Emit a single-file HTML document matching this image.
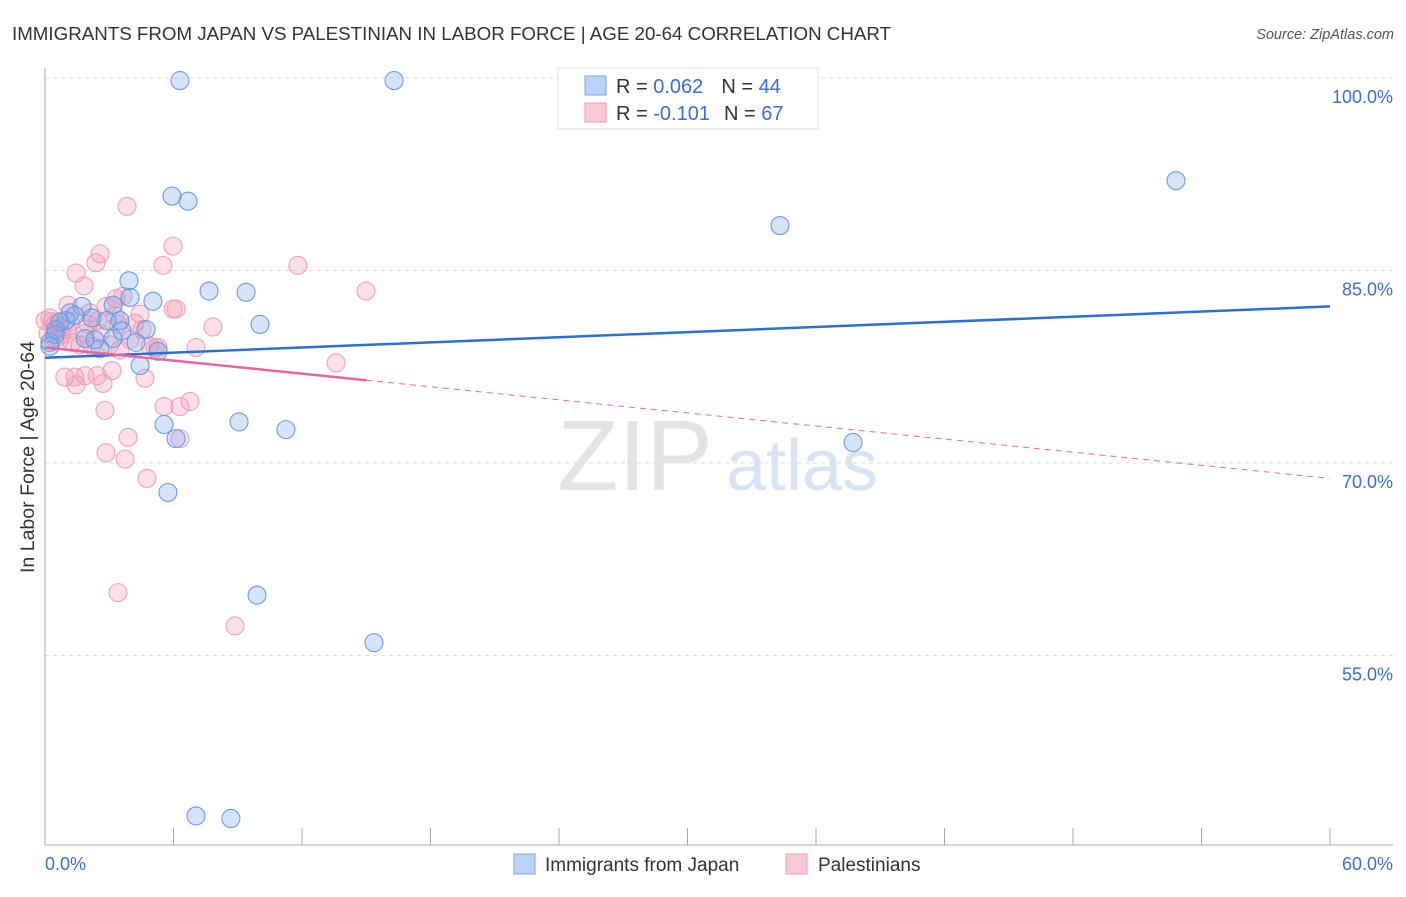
<!DOCTYPE html>
<html><head><meta charset="utf-8"><style>
body{margin:0;background:#fff;font-family:"Liberation Sans",sans-serif;}
svg text{font-family:"Liberation Sans",sans-serif;}
</style></head><body>
<svg id="chart" width="1406" height="892" xmlns="http://www.w3.org/2000/svg">
<text x="12" y="40" font-size="18" fill="#333" textLength="879" lengthAdjust="spacingAndGlyphs">IMMIGRANTS FROM JAPAN VS PALESTINIAN IN LABOR FORCE | AGE 20-64 CORRELATION CHART</text>
<text x="1394" y="39" font-size="14.5" fill="#555" text-anchor="end" font-style="italic">Source: ZipAtlas.com</text>
<text transform="translate(34,457) rotate(-90)" font-size="19" fill="#333" text-anchor="middle" textLength="232" lengthAdjust="spacingAndGlyphs">In Labor Force | Age 20-64</text>
<g><text x="635" y="490" font-size="100" fill="#e4e4e4" text-anchor="middle" font-family="Liberation Serif">ZIP</text><text x="802" y="490" font-size="72" fill="#d6e4f5" text-anchor="middle">atlas</text></g>
<g id="grid"></g><g id="axes"></g><g id="pts"></g><g id="trends"></g>
<g>
<rect x="558" y="68" width="260" height="61" fill="#fff" stroke="#ddd"/>
<rect x="585" y="76" width="21" height="19" fill="#b8d3f5" stroke="#7aa7e6"/>
<rect x="585" y="103" width="21" height="19" fill="#fbc8d6" stroke="#ef9ab3"/>
<text x="616" y="93" font-size="20" fill="#333">R = <tspan fill="#3a6fd0">0.062</tspan><tspan dx="18">N = </tspan><tspan fill="#3a6fd0">44</tspan></text>
<text x="616" y="120" font-size="20" fill="#333">R = <tspan fill="#3a6fd0">-0.101</tspan><tspan dx="14">N = </tspan><tspan fill="#3a6fd0"> 67</tspan></text>
</g>
<g>
<rect x="514" y="854" width="21" height="20" fill="#b8d3f5" stroke="#7aa7e6"/>
<text x="545" y="871" font-size="19" fill="#333">Immigrants from Japan</text>
<rect x="786" y="854" width="21" height="20" fill="#fbc8d6" stroke="#ef9ab3"/>
<text x="818" y="871" font-size="19" fill="#333">Palestinians</text>
</g>
</svg>
<script>
const blueX=[6.30,16.30,52.81,34.32,5.93,6.68,3.92,7.66,9.39,5.04,3.97,3.18,1.73,1.17,2.19,2.89,3.50,4.72,10.04,3.60,0.98,0.51,0.23,2.57,4.25,5.28,4.44,5.56,6.12,9.06,11.25,37.73,5.74,9.90,15.36,7.05,8.68,0.70,1.40,2.33,0.47,3.18,1.87,0.23];
const blueY=[99.8,99.8,92.0,88.5,90.8,90.4,84.2,83.4,83.3,82.6,82.9,82.3,82.2,81.7,81.3,81.1,81.1,80.4,80.8,80.3,81.1,80.4,79.4,78.9,79.4,78.7,77.6,73.0,71.9,73.2,72.6,71.6,67.7,59.7,56.0,42.5,42.3,81.0,81.5,79.6,80.0,79.7,79.7,79.1];
const pinkX=[1.45,1.82,2.38,2.57,3.83,5.98,5.51,11.81,14.99,3.64,3.32,2.85,5.98,6.12,7.84,4.44,4.20,3.41,2.47,2.10,1.17,0.70,0.33,0.14,0.47,0.79,1.63,2.19,3.50,5.14,5.28,7.05,13.59,0.93,1.40,1.87,2.43,3.13,2.71,1.45,4.67,2.80,5.56,6.30,6.77,3.88,6.30,2.85,3.74,4.76,3.41,8.87,0.47,1.03,1.87,2.57,0.0,0.23,3.97,4.53,3.03,0.70,1.26,2.01,4.90,3.27,1.07];
const pinkY=[84.8,83.8,85.6,86.3,90.0,86.9,85.4,85.4,83.4,83.0,82.8,82.2,82.0,82.0,80.6,81.6,80.9,80.8,81.1,81.7,81.0,80.5,81.0,80.1,79.7,80.0,79.2,79.1,78.8,79.0,79.0,79.0,77.8,76.7,76.7,76.8,76.8,77.2,76.2,76.1,76.6,74.1,74.4,74.4,74.8,72.0,71.9,70.8,70.3,68.8,59.9,57.3,80.8,80.4,80.1,80.1,81.1,81.3,79.6,80.4,79.2,79.6,79.4,80.8,79.1,81.5,82.3];
const blueTrend=[78.2,82.2];   // y at x=0 and x=60
const pinkTrend=[79.0,68.8];
const pinkSolidEnd=15;
const yTicks=[100,85,70,55];
const xTickCount=10;
const NS="http://www.w3.org/2000/svg";
const X0=45,X1=1330,YT=78,PXPER=192.5/15;
const sx=v=>X0+v*(X1-X0)/60, sy=v=>YT+(100-v)*PXPER;
function mk(tag,attrs,parent){const e=document.createElementNS(NS,tag);for(const k in attrs)e.setAttribute(k,attrs[k]);parent.appendChild(e);return e;}
const grid=document.getElementById('grid'),axes=document.getElementById('axes'),pts=document.getElementById('pts'),tr=document.getElementById('trends');
yTicks.forEach(t=>{const l=mk('line',{x1:X0,x2:1393,y1:sy(t),y2:sy(t),stroke:'#ddd','stroke-dasharray':'4,4'},grid);


const tx=mk('text',{x:1393,y:sy(t)+25,'font-size':18,fill:'#3a6fd0','text-anchor':'end'},grid);tx.textContent=t.toFixed(1)+'%';

});
const ya=mk('line',{x1:X0,x2:X0,y1:68,y2:845,stroke:'#aaa'},axes);


const xa=mk('line',{x1:X0,x2:1393,y1:845,y2:845,stroke:'#aaa'},axes);


for(let i=0;i<=xTickCount;i++){const v=i*60/xTickCount;const l=mk('line',{x1:sx(v),x2:sx(v),y1:828,y2:845,stroke:'#aaa'},axes);

}
[[0,'start',45,'0.0%'],[60,'end',1393,'60.0%']].forEach(a=>{const t=mk('text',{x:a[2],y:870,'font-size':18,fill:'#3a6fd0','text-anchor':a[1]},axes);t.textContent=a[3];

});
function dots(xs,ys,fill,stroke,name){xs.forEach((x,i)=>{const c=mk('circle',{cx:sx(x),cy:sy(ys[i]),r:9,fill:fill,stroke:stroke,'stroke-width':1.1},pts);

});}
dots(pinkX,pinkY,'rgba(244,150,180,0.3)','#efa0bb','palestinian-point');
dots(blueX,blueY,'rgba(120,165,235,0.3)','#6a9be0','japan-point');
const bl=mk('line',{x1:sx(0),y1:sy(blueTrend[0]),x2:sx(60),y2:sy(blueTrend[1]),stroke:'#2f6fd4','stroke-width':2.5},tr);


const pAt=v=>pinkTrend[0]+(pinkTrend[1]-pinkTrend[0])*v/60;
const ps=mk('line',{x1:sx(0),y1:sy(pAt(0)),x2:sx(pinkSolidEnd),y2:sy(pAt(pinkSolidEnd)),stroke:'#e8679a','stroke-width':2.5},tr);


const pd=mk('line',{x1:sx(pinkSolidEnd),y1:sy(pAt(pinkSolidEnd)),x2:sx(60),y2:sy(pAt(60)),stroke:'#e8679a','stroke-width':1,'stroke-dasharray':'6,5'},tr);


</script>
</body></html>
